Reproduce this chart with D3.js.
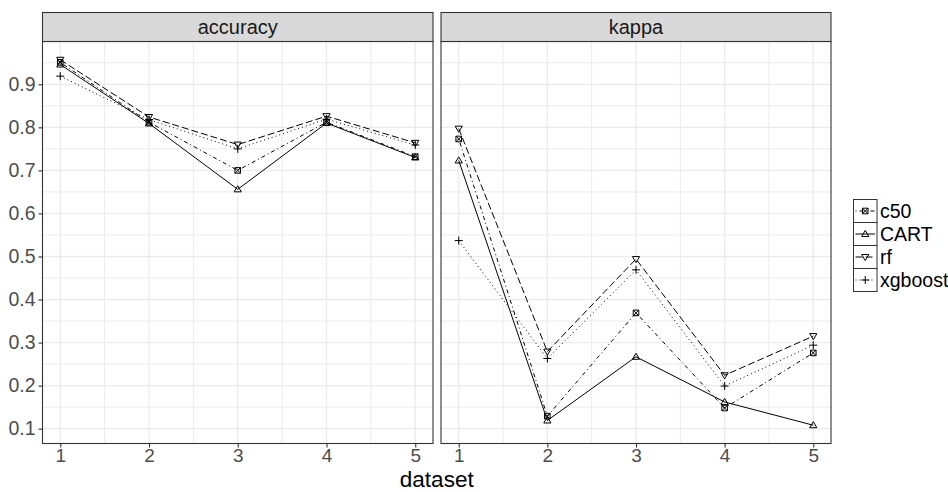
<!DOCTYPE html>
<html>
<head>
<meta charset="utf-8">
<script src="https://cdn.jsdelivr.net/npm/d3@7"></script>
<style>
  body { margin: 0; background: #fff; }
  text { font-family: "Liberation Sans", Arial, sans-serif; }
</style>
</head>
<body>
<svg id="chart" width="948" height="492"></svg>
<script>
// data
var datasets = [1, 2, 3, 4, 5];
var models = ["c50", "CART", "rf", "xgboost"];
var metrics = ["accuracy", "kappa"];

var accuracy = {
  c50:     [0.951, 0.812, 0.700, 0.812, 0.732],
  CART:    [0.946, 0.809, 0.656, 0.810, 0.730],
  rf:      [0.957, 0.824, 0.760, 0.826, 0.764],
  xgboost: [0.919, 0.818, 0.750, 0.819, 0.759]
};
var kappa = {
  c50:     [0.773, 0.129, 0.369, 0.148, 0.276],
  CART:    [0.723, 0.119, 0.267, 0.162, 0.108],
  rf:      [0.797, 0.279, 0.494, 0.224, 0.315],
  xgboost: [0.537, 0.263, 0.469, 0.199, 0.294]
};
var yTicks = [0.1, 0.2, 0.3, 0.4, 0.5, 0.6, 0.7, 0.8, 0.9];

var values = { accuracy: accuracy, kappa: kappa };

// line type per model (ggplot style dash patterns)
var dashes = { c50: "1,3,4,3", CART: null, rf: "7,3", xgboost: "1,3" };

var svg = d3.select("#chart");

var panels = [
  { name: "accuracy", x0: 42.5, x1: 433 },
  { name: "kappa", x0: 441, x1: 831 }
];
var stripTop = 12.5, panelTop = 41.5, panelBottom = 443.5;

// y scale shared across facets, 5% expansion like ggplot
var all = [];
metrics.forEach(m => models.forEach(k => values[m][k].forEach(v => all.push(v))));
var yMin = d3.min(all), yMax = d3.max(all);
var pad = (yMax - yMin) * 0.05;
var yScale = d3.scaleLinear()
  .domain([yMin - pad, yMax + pad])
  .range([panelBottom, panelTop]);

// marker shapes
function shapePath(model, cx, cy) {
  var s = 2.8;
  switch (model) {
    case "c50":
      return "M" + (cx - s) + "," + (cy - s) + "h" + 2 * s + "v" + 2 * s + "h" + -2 * s + "Z" +
        "M" + (cx - s) + "," + (cy - s) + "L" + (cx + s) + "," + (cy + s) +
        "M" + (cx + s) + "," + (cy - s) + "L" + (cx - s) + "," + (cy + s);
    case "CART":
      return "M" + cx + "," + (cy - 3.6) + "L" + (cx + 3.6) + "," + (cy + 2.5) + "L" + (cx - 3.6) + "," + (cy + 2.5) + "Z";
    case "rf":
      return "M" + cx + "," + (cy + 3.6) + "L" + (cx + 3.6) + "," + (cy - 2.5) + "L" + (cx - 3.6) + "," + (cy - 2.5) + "Z";
    default:
      return "M" + (cx - 4) + "," + cy + "h8M" + cx + "," + (cy - 4) + "v8";
  }
}

panels.forEach(function(p) {
  var xScale = d3.scaleLinear().domain([0.8, 5.2]).range([p.x0, p.x1]);
  var g = svg.append("g");

  // grid
  var minorX = [1.5, 2.5, 3.5, 4.5];
  var minorY = d3.range(0.15, 1.0, 0.1).filter(v => yScale(v) > panelTop && yScale(v) < panelBottom);
  g.selectAll(".mx").data(minorX).enter().append("line")
    .attr("x1", d => xScale(d)).attr("x2", d => xScale(d))
    .attr("y1", panelTop).attr("y2", panelBottom)
    .attr("stroke", "#ebebeb").attr("stroke-width", 1);
  g.selectAll(".my").data(minorY).enter().append("line")
    .attr("x1", p.x0).attr("x2", p.x1)
    .attr("y1", d => yScale(d)).attr("y2", d => yScale(d))
    .attr("stroke", "#ebebeb").attr("stroke-width", 1);
  g.selectAll(".gx").data(datasets).enter().append("line")
    .attr("x1", d => xScale(d)).attr("x2", d => xScale(d))
    .attr("y1", panelTop).attr("y2", panelBottom)
    .attr("stroke", "#ebebeb").attr("stroke-width", 1.3);
  g.selectAll(".gy").data(yTicks).enter().append("line")
    .attr("x1", p.x0).attr("x2", p.x1)
    .attr("y1", d => yScale(d)).attr("y2", d => yScale(d))
    .attr("stroke", "#ebebeb").attr("stroke-width", 1.3);

  // lines
  var line = d3.line()
    .x((d, i) => xScale(datasets[i]))
    .y(d => yScale(d));
  models.forEach(function(m) {
    g.append("path")
      .attr("d", line(values[p.name][m]))
      .attr("fill", "none")
      .attr("stroke", "#000")
      .attr("stroke-width", 1)
      .attr("stroke-dasharray", dashes[m]);
  });
  // points
  models.forEach(function(m) {
    values[p.name][m].forEach(function(v, i) {
      g.append("path")
        .attr("d", shapePath(m, xScale(datasets[i]), yScale(v)))
        .attr("fill", "none")
        .attr("stroke", "#000")
        .attr("stroke-width", 1);
    });
  });

  // border + strip
  g.append("rect")
    .attr("x", p.x0).attr("y", panelTop)
    .attr("width", p.x1 - p.x0).attr("height", panelBottom - panelTop)
    .attr("fill", "none").attr("stroke", "#333").attr("stroke-width", 1.1);
  g.append("rect")
    .attr("x", p.x0).attr("y", stripTop)
    .attr("width", p.x1 - p.x0).attr("height", panelTop - stripTop)
    .attr("fill", "#d9d9d9").attr("stroke", "#333").attr("stroke-width", 1.1);
  g.append("text")
    .attr("x", (p.x0 + p.x1) / 2).attr("y", (stripTop + panelTop) / 2)
    .attr("dy", "0.35em")
    .attr("text-anchor", "middle")
    .attr("font-size", 20)
    .attr("fill", "#1a1a1a")
    .text(p.name);

  // x axis
  var xAxis = d3.axisBottom(xScale).tickValues(datasets).tickSize(4).tickPadding(1.5).tickFormat(d3.format("d"));
  var ax = g.append("g")
    .attr("transform", "translate(0," + panelBottom + ")")
    .call(xAxis);
  ax.select(".domain").remove();
  ax.selectAll(".tick line").attr("stroke", "#333").attr("stroke-width", 1.1);
  ax.selectAll(".tick text").attr("font-size", 19).attr("fill", "#4d4d4d")
    .attr("font-family", "Liberation Sans, Arial, sans-serif");
});

// y axis on the left panel
var yAxis = d3.axisLeft(yScale).tickValues(yTicks).tickSize(4).tickPadding(3).tickFormat(d3.format(".1f"));
var ay = svg.append("g")
  .attr("transform", "translate(" + panels[0].x0 + ",0)")
  .call(yAxis);
ay.select(".domain").remove();
ay.selectAll(".tick line").attr("stroke", "#333").attr("stroke-width", 1.1);
ay.selectAll(".tick text").attr("font-size", 19.5).attr("fill", "#4d4d4d")
  .attr("font-family", "Liberation Sans, Arial, sans-serif");

// axis title
svg.append("text")
  .attr("x", (panels[0].x0 + panels[1].x1) / 2)
  .attr("y", 487)
  .attr("text-anchor", "middle")
  .attr("font-size", 22.5)
  .attr("fill", "#000")
  .text("dataset");

// legend
var keyX = 853.5, keyY = 199.5, keyW = 23.5, keyH = 23;
var legend = svg.append("g");
models.forEach(function(m, i) {
  var y = keyY + i * keyH;
  legend.append("rect")
    .attr("x", keyX).attr("y", y)
    .attr("width", keyW).attr("height", keyH)
    .attr("fill", "#fff").attr("stroke", "#333").attr("stroke-width", 1);
  legend.append("line")
    .attr("x1", keyX + 2).attr("x2", keyX + keyW - 2)
    .attr("y1", y + keyH / 2).attr("y2", y + keyH / 2)
    .attr("stroke", "#000").attr("stroke-width", 1)
    .attr("stroke-dasharray", dashes[m]);
  legend.append("path")
    .attr("d", shapePath(m, keyX + keyW / 2, y + keyH / 2))
    .attr("fill", "none").attr("stroke", "#000").attr("stroke-width", 1);
  legend.append("text")
    .attr("x", keyX + keyW + 3).attr("y", y + keyH / 2)
    .attr("dy", "0.35em")
    .attr("font-size", 19.5)
    .attr("fill", "#000")
    .text(m);
});
</script>
</body>
</html>
